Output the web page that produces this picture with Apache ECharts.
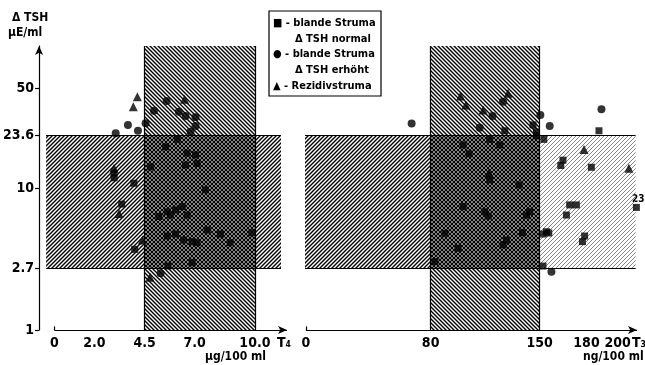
<!DOCTYPE html>
<html><head><meta charset="utf-8">
<script src="https://cdn.jsdelivr.net/npm/echarts@6/dist/echarts.min.js"></script>
<style>html,body{margin:0;padding:0;background:#fff}#c{width:645px;height:365px}</style>
</head><body><div id="c"></div>
<script>
// ---- tick labels / reference ranges ----
const yTicks = [1, 2.7, 10, 23.6, 50];
const t4Ticks = [0, 2.0, 4.5, 7.0, 10.0];
const t3Ticks = [0, 80, 150, 180, 200];
const tshBand = [2.7, 23.6];
const t4Band = [4.5, 10.0];
const t3Band = [80, 150];
const yRange = [1, 100];
const t4Range = [-0.41, 11.6];
const t3Range = [-0.6, 212.4];
const t4BandEnd = 11.3;
const t3BandEnd = 211.5;

// ---- left panel: T4 (µg/100 ml) vs ΔTSH ----
const t4Normal = [[4.80,14.1],[6.54,14.5],[7.12,14.9],[5.55,19.5],[6.62,17.6],[7.04,17.1],[2.98,12.7],[2.98,11.8],[3.97,10.8],[7.53,9.7],[3.36,7.7],[5.21,6.3],[5.63,6.8],[6.04,7.0],[6.38,7.4],[6.62,6.45],[5.79,6.45],[7.62,5.06],[8.28,4.74],[8.77,4.12],[9.85,4.84],[5.63,4.59],[6.04,4.74],[6.45,4.3],[6.87,4.19],[7.12,4.12],[4.01,3.7],[6.87,2.98],[5.66,2.82],[6.13,22.0]];
const t4Elevated = [[5.60,41.0],[4.97,35.0],[6.21,34.5],[6.54,32.1],[7.04,31.5],[3.67,27.8],[4.55,28.6],[7.04,27.3],[4.17,25.3],[3.06,24.3],[6.79,24.9],[5.30,2.51]];
const t4Recurrent = [[4.14,44.0],[3.94,37.4],[6.49,42.1],[2.98,13.8],[3.23,6.6],[4.77,2.35],[4.39,4.3]];

// ---- right panel: T3 (ng/100 ml) vs ΔTSH ----
const t3Normal = [[145.7,27.8],[147.9,24.9],[147.9,23.3],[127.6,25.3],[117.9,22.0],[100.8,20.1],[124.4,20.1],[152.6,22.0],[104.7,17.4],[164.9,15.7],[163.5,14.4],[183.1,14.0],[117.9,11.4],[136.7,10.5],[100.8,7.4],[114.7,6.8],[116.9,6.35],[143.6,6.8],[141.5,6.45],[169.2,7.6],[173.5,7.6],[167.1,6.45],[212.0,7.3],[89.1,4.8],[138.9,4.84],[128.7,4.3],[126.5,3.97],[154.3,4.92],[152.1,4.74],[155.8,4.82],[178.8,4.59],[177.4,4.19],[97.6,3.76],[82.7,3.03],[152.1,2.82],[188.0,25.3]];
const t3Elevated = [[67.8,28.5],[119.7,32.1],[150.4,32.7],[189.6,35.8],[111.5,26.6],[156.4,27.3],[157.5,2.57],[126.5,40.5]];
const t3Recurrent = [[99.2,44.5],[102.6,38.4],[129.7,46.4],[113.7,35.4],[178.4,18.7],[207.2,13.8],[117.5,12.8]];

const FONT = '"DejaVu Sans Condensed", "DejaVu Sans", sans-serif';

function hatch(dir, color, lw, s) {
  const c = document.createElement('canvas'); c.width = s; c.height = s;
  const g = c.getContext('2d'); g.strokeStyle = color; g.lineWidth = lw; g.beginPath();
  if (dir === '/') { g.moveTo(0,s); g.lineTo(s,0); g.moveTo(-1,1); g.lineTo(1,-1); g.moveTo(s-1,s+1); g.lineTo(s+1,s-1); }
  else { g.moveTo(0,0); g.lineTo(s,s); g.moveTo(s-1,-1); g.lineTo(s+1,1); g.moveTo(-1,s-1); g.lineTo(1,s+1); }
  g.stroke();
  return {image: c, repeat: 'repeat'};
}
const fwd = hatch('/', '#000', 1.4, 4);
const bwd = hatch('\\', '#000', 1.4, 4);
const light = hatch('/', '#777', 0.9, 4);

const lineStyle = {color:'#000', width:1.2, type:'solid'};

function bandSeries(idx, xr, bandEnd, vBand, lightFrom) {
  const areas = [];
  if (lightFrom != null) {
    areas.push([{coord:[xr[0], tshBand[0]], itemStyle:{color:fwd}}, {coord:[lightFrom, tshBand[1]]}]);
    areas.push([{coord:[lightFrom, tshBand[0]], itemStyle:{color:light}}, {coord:[bandEnd, tshBand[1]]}]);
  } else {
    areas.push([{coord:[xr[0], tshBand[0]], itemStyle:{color:fwd}}, {coord:[bandEnd, tshBand[1]]}]);
  }
  areas.push([{coord:[vBand[0], yRange[0]], itemStyle:{color:bwd}}, {coord:[vBand[1], yRange[1]]}]);
  return {
    type:'line', xAxisIndex:idx, yAxisIndex:idx, data:[], z:1, silent:true,
    markArea:{silent:true, label:{show:false}, data:areas},
    markLine:{silent:true, symbol:'none', label:{show:false}, lineStyle:lineStyle, emphasis:{disabled:true},
      data:[
        [{coord:[xr[0], tshBand[1]]},{coord:[bandEnd, tshBand[1]]}],
        [{coord:[xr[0], tshBand[0]]},{coord:[bandEnd, tshBand[0]]}],
        [{coord:[vBand[0], yRange[0]]},{coord:[vBand[0], yRange[1]]}],
        [{coord:[vBand[1], yRange[0]]},{coord:[vBand[1], yRange[1]]}],
        [{coord:[0, yRange[0]], symbol:'none'},{coord:[xr[1], yRange[0]], symbol:'arrow', symbolSize:[6,9]}],
        [{coord:[0, yRange[0]]},{coord:[0, 1.06]}]
      ]}
  };
}
function scat(idx, data, sym, size) {
  return {type:'scatter', xAxisIndex:idx, yAxisIndex:idx, data:data, symbol:sym, symbolSize:size,
    itemStyle:{color:'#000'}, z:5, silent:true, clip:false};
}
const tickLabel = {color:'#000', fontWeight:'bold', fontSize:14, fontFamily:FONT};
function xAxis(idx, xr, ticks, fmt) {
  return {type:'value', gridIndex:idx, min:xr[0], max:xr[1], axisLine:{show:false}, axisTick:{show:false},
    splitLine:{show:false}, axisLabel:Object.assign({customValues:ticks, margin:6, formatter:fmt}, tickLabel)};
}
const option = {
  animation:false,
  grid:[{left:45, right:358, top:46, bottom:35},{left:305, right:8, top:46, bottom:35}],
  xAxis:[
    xAxis(0, t4Range, t4Ticks, v => v === 0 ? '0' : v.toFixed(1)),
    xAxis(1, t3Range, t3Ticks, v => String(v))
  ],
  yAxis:[
    {type:'log', logBase:10, gridIndex:0, min:yRange[0], max:yRange[1], offset:7, position:'left',
     axisLine:{show:true, onZero:false, lineStyle:{color:'#000', width:1.2}, symbol:['none','arrow'], symbolSize:[6,9]},
     axisTick:{show:true, customValues:yTicks, length:4, lineStyle:{color:'#000', width:1.2}},
     splitLine:{show:false}, minorTick:{show:false},
     axisLabel:Object.assign({customValues:yTicks, margin:5, formatter:v => String(v)}, tickLabel)},
    {type:'log', logBase:10, gridIndex:1, min:yRange[0], max:yRange[1], show:false, splitLine:{show:false}}
  ],
  series:[
    bandSeries(0, t4Range, t4BandEnd, t4Band, null),
    bandSeries(1, t3Range, t3BandEnd, t3Band, t3Band[1]),
    scat(0, t4Normal, 'rect', 7), scat(0, t4Elevated, 'circle', 8), scat(0, t4Recurrent, 'triangle', 9),
    scat(1, t3Normal, 'rect', 7), scat(1, t3Elevated, 'circle', 8), scat(1, t3Recurrent, 'triangle', 9)
  ],
  graphic:[
    {type:'text', x:12, y:18, style:{text:'Δ TSH', font:'bold 12px '+FONT, fill:'#000', verticalAlign:'middle'}},
    {type:'text', x:8, y:33, style:{text:'μE/ml', font:'bold 12px '+FONT, fill:'#000', verticalAlign:'middle'}},
    {type:'text', x:277, y:343, style:{text:'T₄', font:'bold 14px '+FONT, fill:'#000', verticalAlign:'middle'}},
    {type:'text', x:205, y:357, style:{text:'μg/100 ml', font:'bold 12px '+FONT, fill:'#000', verticalAlign:'middle'}},
    {type:'text', x:632, y:343, style:{text:'T₃', font:'bold 14px '+FONT, fill:'#000', verticalAlign:'middle'}},
    {type:'text', x:583, y:357, style:{text:'ng/100 ml', font:'bold 12px '+FONT, fill:'#000', verticalAlign:'middle'}},
    {type:'text', x:632, y:199, style:{text:'23', font:'bold 10px '+FONT, fill:'#000', verticalAlign:'middle'}},
    {type:'rect', shape:{x:269, y:11, width:112, height:85}, style:{fill:'#fff', stroke:'#000', lineWidth:1.2}, z:10},
    {type:'text', x:273, y:23, z:11, style:{text:'■ - blande Struma', font:'bold 11px '+FONT, fill:'#000', verticalAlign:'middle'}},
    {type:'text', x:295, y:39, z:11, style:{text:'Δ TSH normal', font:'bold 11px '+FONT, fill:'#000', verticalAlign:'middle'}},
    {type:'text', x:273, y:54, z:11, style:{text:'● - blande Struma', font:'bold 11px '+FONT, fill:'#000', verticalAlign:'middle'}},
    {type:'text', x:295, y:70, z:11, style:{text:'Δ TSH erhöht', font:'bold 11px '+FONT, fill:'#000', verticalAlign:'middle'}},
    {type:'text', x:273, y:86, z:11, style:{text:'▲ - Rezidivstruma', font:'bold 11px '+FONT, fill:'#000', verticalAlign:'middle'}}
  ]
};
const chart = echarts.init(document.getElementById('c'), null, {renderer:'canvas'});
chart.setOption(option);
</script></body></html>
